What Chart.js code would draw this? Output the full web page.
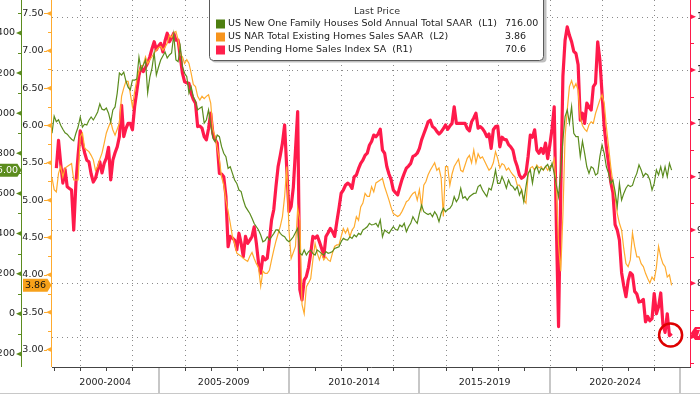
<!DOCTYPE html>
<html><head><meta charset="utf-8">
<script src="https://cdn.jsdelivr.net/npm/chart.js@4.4.1/dist/chart.umd.min.js"></script>
<style>html,body{margin:0;padding:0;background:#fff;overflow:hidden}canvas{display:block}</style>
</head><body>
<canvas id="c" width="700" height="394"></canvas>
<script>
// ---------- categories (month-end observations, Nov 2000 .. Apr 2025) ----------
const months = [];
for (let m = 0; m < 294; m++) {
  const y = 2000 + Math.floor((10 + m) / 12), mo = (10 + m) % 12 + 1;
  months.push(y + '-' + String(mo).padStart(2, '0'));
}
const periodLabels = ['2000-2004', '2005-2009', '2010-2014', '2015-2019', '2020-2024'];
const seriesNames = [
  'US New One Family Houses Sold Annual Total SAAR  (L1)',
  'US NAR Total Existing Homes Sales SAAR  (L2)',
  'US Pending Home Sales Index SA  (R1)'
];
const lastValues = ['716.00', '3.86', '70.6'];
const l1Ticks = [-200, 0, 200, 400, 600, 800, 1000, 1200, 1400];
const l2Ticks = [3.0, 3.5, 4.0, 4.5, 5.0, 5.5, 6.0, 6.5, 7.0, 7.5];
const r1Ticks = [70, 80, 90, 100, 110, 120, 130];

// ---------- series (Nov 2000 .. Aug 2024) ----------
const newHomeSales = [
  900, 985,
  957, 967, 940, 920, 902, 895, 882, 870, 862, 900, 931, 981,
  931, 945, 941, 965, 981, 966, 985, 1006, 1046, 1020, 1016, 1026,
  1000, 956, 1016, 1031, 1100, 1200, 1190, 1205, 1160, 1130, 1116, 1165,
  1165, 1170, 1280, 1215, 1240, 1265, 1101, 1180, 1225, 1300, 1190, 1230,
  1265, 1285, 1305, 1275, 1290, 1300, 1390, 1265, 1257, 1331, 1232, 1199,
  1182, 1100, 1132, 1082, 1060, 1016, 1025, 1032, 950, 966, 1016, 941,
  875, 858, 891, 883, 833, 800, 783, 725, 733, 700, 667, 650,
  617, 609, 567, 534, 517, 500, 476, 450, 434, 418, 393, 359,
  365, 384, 368, 384, 400, 418, 418, 401, 390, 384, 368, 359,
  370, 384, 405, 426, 302, 293, 318, 293, 310, 318, 300, 293,
  318, 310, 300, 293, 310, 302, 305, 310, 326, 330, 334, 359,
  376, 370, 368, 384, 376, 393, 384, 401, 395, 418, 425, 434,
  451, 443, 445, 451, 434, 468, 384, 418, 409, 401, 418, 434,
  420, 418, 443, 434, 451, 409, 434, 451, 484, 465, 451, 501,
  542, 509, 501, 495, 501, 484, 509, 492, 459, 501, 526, 509,
  520, 526, 542, 584, 559, 576, 626, 576, 584, 567, 584, 592,
  600, 601, 634, 642, 617, 600, 584, 626, 617, 659, 717, 650,
  650, 684, 659, 626, 667, 642, 634, 617, 634, 592, 617, 559,
  634, 700, 717, 651, 720, 734, 700, 726, 717, 733, 745, 715,
  750, 700, 640, 584, 717, 866, 983, 1016, 950, 1032, 900, 883,
  883, 783, 860, 800, 733, 700, 733, 725, 692, 700, 783, 841,
  800, 733, 700, 650, 667, 609, 534, 650, 567, 600, 626, 642,
  634, 640, 675, 700, 742, 717, 684, 700, 692, 667, 617, 650,
  717, 692, 733, 684, 733, 684, 750, 716
];
const existingHomeSales = [
  5.30, 5.14,
  5.11, 5.36, 5.45, 5.31, 5.43, 5.45, 5.47, 5.49, 5.27, 5.27, 5.27, 5.85,
  5.90, 5.70, 5.67, 5.65, 5.60, 5.54, 5.40, 5.45, 5.55, 5.63, 5.76, 5.90,
  5.98, 6.05, 5.94, 5.87, 5.95, 6.03, 6.39, 6.50, 6.59, 6.59, 6.43, 6.25,
  6.45, 6.61, 6.72, 6.79, 6.81, 6.92, 6.83, 6.88, 6.92, 6.97, 7.01, 7.04,
  7.06, 7.01, 7.05, 7.10, 7.21, 7.18, 7.24, 7.26, 7.15, 6.95, 6.92, 6.83,
  6.88, 6.83, 6.70, 6.55, 6.52, 6.39, 6.34, 6.39, 6.36, 6.39, 6.41, 6.30,
  5.95, 5.85, 5.70, 5.54, 5.31, 5.20, 5.00, 4.85, 4.69, 4.51, 4.42, 4.29,
  4.27, 4.25, 4.22, 4.20, 4.18, 4.25, 4.30, 4.22, 4.15, 4.10, 3.85, 4.05,
  4.02, 4.02, 4.06, 4.20, 4.33, 4.45, 4.55, 4.65, 4.78, 5.05, 5.45, 4.60,
  4.22, 4.30, 4.38, 4.89, 4.73, 3.60, 3.48, 3.84, 3.89, 3.95, 4.20, 4.42,
  4.29, 4.20, 4.29, 4.20, 4.24, 4.20, 4.18, 4.29, 4.38, 4.40, 4.40, 4.51,
  4.62, 4.56, 4.62, 4.51, 4.60, 4.64, 4.78, 4.73, 4.91, 4.96, 5.09, 5.05,
  5.05, 5.18, 5.11, 5.23, 5.25, 5.27, 5.29, 5.18, 5.09, 5.00, 4.90, 4.82,
  4.80, 4.78, 4.80, 4.85, 4.91, 4.98, 5.00, 5.05, 5.09, 5.11, 5.00, 5.14,
  4.90, 5.20, 5.25, 5.34, 5.40, 5.45, 5.50, 5.40, 5.43, 5.30, 4.78, 5.45,
  5.45, 5.20, 5.35, 5.45, 5.50, 5.55, 5.40, 5.38, 5.47, 5.56, 5.60, 5.50,
  5.67, 5.50, 5.62, 5.56, 5.58, 5.52, 5.46, 5.40, 5.43, 5.50, 5.65, 5.56,
  5.43, 5.49, 5.47, 5.40, 5.43, 5.38, 5.34, 5.31, 5.20, 5.20, 5.14, 5.00,
  4.96, 5.34, 5.43, 5.45, 5.40, 5.47, 5.43, 5.45, 5.40, 5.45, 5.40, 5.45,
  5.45, 5.55, 5.15, 4.40, 4.05, 4.80, 5.85, 6.21, 6.52, 6.60, 6.50, 6.56,
  6.47, 6.10, 6.00, 5.95, 5.92, 6.01, 6.05, 6.03, 6.16, 6.25, 6.34, 6.41,
  6.30, 5.98, 5.72, 5.45, 5.23, 5.05, 4.82, 4.69, 4.60, 4.35, 4.15, 4.11,
  4.20, 4.56, 4.38, 4.24, 4.24, 4.15, 4.11, 4.02, 3.95, 3.89, 3.97, 3.93,
  4.10, 4.38, 4.24, 4.15, 4.11, 3.97, 4.00, 3.86
];
const pendingHomeIndex = [
  null, null,
  101.6, 106.8, 102.5, 98.8, 101.4, 98.1, 97.8, 97.5, 90.0, 98.8, 104.0, 108.6,
  106.3, 104.5, 103.1, 102.8, 100.5, 99.0, 99.7, 101.3, 102.8, 100.7, 102.5, 103.5,
  105.5, 99.4, 103.1, 104.5, 105.6, 107.5, 113.4, 107.5, 109.0, 110.0, 110.0, 108.8,
  113.1, 116.0, 119.0, 120.6, 119.7, 120.5, 121.3, 122.5, 124.0, 125.3, 123.8, 124.5,
  125.0, 123.4, 125.5, 126.9, 125.3, 126.0, 126.9, 125.6, 125.6, 122.5, 119.4, 117.8,
  117.6, 117.5, 115.6, 114.5, 113.8, 109.4, 109.5, 109.1, 107.5, 106.9, 109.0, 111.9,
  108.1, 107.0, 106.3, 100.6, 100.5, 100.0, 96.3, 86.9, 88.8, 88.5, 88.1, 86.3,
  89.4, 87.5, 85.0, 88.8, 87.5, 88.1, 88.8, 90.6, 87.5, 83.8, 81.9, 85.0,
  84.4, 84.7, 88.1, 91.9, 93.8, 98.1, 101.9, 104.0, 106.3, 109.7, 101.3, 93.5,
  94.4, 98.0, 105.0, 112.2, 78.8, 76.9, 80.6, 81.3, 83.0, 85.6, 88.8, 88.5,
  88.9, 87.8, 86.6, 85.0, 88.8, 89.5, 90.3, 89.7, 88.8, 91.5, 94.1, 96.9,
  97.5, 98.4, 98.8, 98.5, 97.8, 100.0, 100.3, 101.5, 102.5, 103.1, 104.0, 104.4,
  105.9, 106.6, 107.8, 107.5, 108.0, 108.9, 105.0, 104.4, 101.9, 100.5, 99.4, 97.5,
  97.0, 96.6, 98.1, 99.5, 100.6, 101.6, 102.0, 102.5, 103.8, 104.0, 104.4, 105.3,
  106.9, 108.0, 109.1, 110.3, 110.6, 109.4, 109.1, 108.5, 108.0, 108.4, 109.0, 109.7,
  108.9, 109.5, 110.0, 113.1, 110.0, 110.0, 110.0, 110.0, 110.0, 109.0, 108.6, 110.3,
  111.0, 111.9, 109.1, 109.4, 109.0, 108.4, 107.5, 108.0, 105.3, 108.8, 109.4, 109.5,
  105.6, 107.4, 107.0, 106.9, 106.0, 105.6, 105.0, 103.1, 101.9, 100.3, 99.7, 100.0,
  100.6, 103.8, 107.8, 107.4, 108.8, 105.0, 104.4, 105.3, 104.4, 106.3, 103.4, 106.0,
  109.0, 113.1, 90.6, 71.9, 97.0, 118.8, 125.6, 128.1, 126.5, 125.3, 123.5, 123.1,
  121.0, 110.6, 111.9, 110.0, 113.8, 113.1, 112.5, 116.9, 117.5, 125.3, 121.9, 115.6,
  109.4, 105.5, 102.5, 99.0, 97.0, 91.0, 90.0, 88.1, 82.0, 79.5, 77.5, 80.5,
  82.0, 81.6, 78.5, 78.0, 76.5, 76.6, 77.0, 72.8, 73.8, 73.0, 73.4, 78.1,
  74.3, 75.6, 78.2, 72.3, 70.8, 74.3, 70.2, 70.6
];

// ---------- styling ----------
const GREEN = '#5b8c1e', ORANGE = '#ffab2e', RED = '#ff1a4b';
const FONT = '9.5px "DejaVu Sans", sans-serif';
const TXT = '#222';

function yearIdx(Y) { return months.indexOf((Y - 1) + '-12'); }

function tri(ctx, x0, x1, y, h) {
  ctx.beginPath(); ctx.moveTo(x0, y - h); ctx.lineTo(x0, y + h); ctx.lineTo(x1, y); ctx.closePath(); ctx.fill();
}
function rr(ctx, x, y, w, h, r) {
  ctx.beginPath();
  ctx.moveTo(x + r, y); ctx.lineTo(x + w - r, y); ctx.arcTo(x + w, y, x + w, y + r, r);
  ctx.lineTo(x + w, y + h - r); ctx.arcTo(x + w, y + h, x + w - r, y + h, r);
  ctx.lineTo(x + r, y + h); ctx.arcTo(x, y + h, x, y + h - r, r);
  ctx.lineTo(x, y + r); ctx.arcTo(x, y, x + r, y, r); ctx.closePath();
}

const bbg = {
  id: 'bbg',
  beforeDatasetsDraw(chart) {
    const { ctx, chartArea: a, scales } = chart;
    ctx.save();
    ctx.strokeStyle = '#8a8a8a'; ctx.lineWidth = 1; ctx.setLineDash([1, 4]);
    r1Ticks.forEach(v => {
      const y = Math.round(scales.yR1.getPixelForValue(v)) + 0.5;
      ctx.beginPath(); ctx.moveTo(a.left, y); ctx.lineTo(a.right, y); ctx.stroke();
    });
    for (let Y = 2002; Y <= 2024; Y += 2) {
      const x = Math.round(scales.x.getPixelForValue(yearIdx(Y))) + 0.5;
      ctx.beginPath(); ctx.moveTo(x, a.top); ctx.lineTo(x, a.bottom); ctx.stroke();
    }
    ctx.restore();
  },
  afterDraw(chart) {
    const { ctx, chartArea: a, scales } = chart;
    const X = scales.x, L1 = scales.yL1, L2 = scales.yL2, R1 = scales.yR1;
    ctx.save();
    ctx.font = FONT; ctx.textBaseline = 'middle';

    // ----- L1 axis (outer left, green)
    ctx.strokeStyle = GREEN; ctx.fillStyle = GREEN; ctx.lineWidth = 1;
    ctx.beginPath(); ctx.moveTo(21.5, 0); ctx.lineTo(21.5, a.bottom); ctx.stroke();
    for (let v = -200; v <= 1500; v += 100) {
      const y = L1.getPixelForValue(v);
      if (y < 0 || y > a.bottom) continue;
      if (v % 200 === 0) tri(ctx, 21.5, 16, y, 2.5);
      else { ctx.beginPath(); ctx.moveTo(18, Math.round(y) + 0.5); ctx.lineTo(21.5, Math.round(y) + 0.5); ctx.stroke(); }
    }
    ctx.fillStyle = TXT; ctx.textAlign = 'right';
    l1Ticks.forEach(v => ctx.fillText(String(v), 15, L1.getPixelForValue(v)));

    // ----- L2 axis (inner left, orange)
    ctx.strokeStyle = ORANGE; ctx.fillStyle = ORANGE;
    ctx.beginPath(); ctx.moveTo(51.5, 0); ctx.lineTo(51.5, a.bottom); ctx.stroke();
    for (let v = 2.75; v <= 7.75; v += 0.25) {
      const y = L2.getPixelForValue(v);
      if (y < 0 || y > a.bottom) continue;
      if (Math.abs(v * 2 - Math.round(v * 2)) < 1e-6) { tri(ctx, 51.5, 46, y, 2.5); ctx.fillRect(44, Math.round(y), 3, 1); }
      else { ctx.beginPath(); ctx.moveTo(48, Math.round(y) + 0.5); ctx.lineTo(51.5, Math.round(y) + 0.5); ctx.stroke(); }
    }
    ctx.fillStyle = TXT;
    l2Ticks.forEach(v => ctx.fillText(v.toFixed(2), 43.5, L2.getPixelForValue(v)));

    // ----- R1 axis (right, red)
    ctx.strokeStyle = RED; ctx.fillStyle = RED;
    ctx.beginPath(); ctx.moveTo(690.5, 0); ctx.lineTo(690.5, a.bottom); ctx.stroke();
    for (let v = 65; v <= 135; v += 5) {
      const y = R1.getPixelForValue(v);
      if (y < 0 || y > a.bottom) continue;
      if (v % 10 === 0) tri(ctx, 690.5, 696, y, 2.5);
      else { ctx.beginPath(); ctx.moveTo(690.5, Math.round(y) + 0.5); ctx.lineTo(694, Math.round(y) + 0.5); ctx.stroke(); }
    }
    ctx.fillStyle = TXT; ctx.textAlign = 'left';
    r1Ticks.forEach(v => ctx.fillText(String(v), 697, R1.getPixelForValue(v)));

    // ----- x axis & period band
    ctx.strokeStyle = '#444'; ctx.lineWidth = 1;
    ctx.beginPath(); ctx.moveTo(a.left, a.bottom + 0.5); ctx.lineTo(691, a.bottom + 0.5); ctx.stroke();
    for (let Y = 2001; Y <= 2025; Y++) {
      if (Y % 5 === 0) continue;
      const x = Math.round(X.getPixelForValue(yearIdx(Y))) + 0.5;
      ctx.beginPath(); ctx.moveTo(x, a.bottom + 1); ctx.lineTo(x, a.bottom + 4); ctx.stroke();
    }
    ctx.strokeStyle = '#b4b4b4'; ctx.lineWidth = 1.5;
    const seps = [2005, 2010, 2015, 2020, 2025].map(Y => X.getPixelForValue(yearIdx(Y)));
    seps.forEach(x => { ctx.beginPath(); ctx.moveTo(Math.round(x), a.bottom + 1); ctx.lineTo(Math.round(x), 394); ctx.stroke(); });
    ctx.strokeStyle = '#c8c8c8'; ctx.lineWidth = 1;
    ctx.beginPath(); ctx.moveTo(0, 393.5); ctx.lineTo(700, 393.5); ctx.stroke();
    ctx.fillStyle = TXT; ctx.textAlign = 'center';
    periodLabels.forEach((t, i) => {
      const x0 = i === 0 ? a.left : seps[i - 1], x1 = seps[i];
      ctx.fillText(t, (x0 + x1) / 2, 383);
    });

    // ----- last-value bubbles
    const yG = L1.getPixelForValue(716);
    ctx.fillStyle = GREEN;
    ctx.beginPath(); ctx.moveTo(-6, yG - 6.5); ctx.lineTo(17.5, yG - 6.5); ctx.lineTo(21.5, yG); ctx.lineTo(17.5, yG + 6.5); ctx.lineTo(-6, yG + 6.5); ctx.closePath(); ctx.fill();
    ctx.fillStyle = '#fff'; ctx.textAlign = 'right'; ctx.fillText(lastValues[0], 18, yG + 0.5);

    const yO = L2.getPixelForValue(3.86);
    ctx.fillStyle = '#f7a11a';
    ctx.beginPath(); ctx.moveTo(23, yO - 6.5); ctx.lineTo(47.5, yO - 6.5); ctx.lineTo(51.5, yO); ctx.lineTo(47.5, yO + 6.5); ctx.lineTo(23, yO + 6.5); ctx.closePath(); ctx.fill();
    ctx.fillStyle = '#111'; ctx.textAlign = 'center'; ctx.fillText(lastValues[1], 35.5, yO + 0.5);

    const yR = R1.getPixelForValue(70.6);
    ctx.fillStyle = RED;
    ctx.beginPath(); ctx.moveTo(690.5, yR); ctx.lineTo(695, yR - 6.5); ctx.lineTo(720, yR - 6.5); ctx.lineTo(720, yR + 6.5); ctx.lineTo(695, yR + 6.5); ctx.closePath(); ctx.fill();
    ctx.fillStyle = '#fff'; ctx.textAlign = 'left'; ctx.fillText(lastValues[2], 696, yR + 0.5);

    // ----- highlight circle on the last pending-sales point
    const lastI = pendingHomeIndex.length - 1;
    ctx.strokeStyle = '#dd0000'; ctx.lineWidth = 2.5;
    ctx.beginPath(); ctx.arc(X.getPixelForValue(lastI) - 1, R1.getPixelForValue(pendingHomeIndex[lastI]) + 1.5, 11.5, 0, Math.PI * 2); ctx.stroke();

    // ----- legend box
    ctx.fillStyle = 'rgba(0,0,0,0.25)'; rr(ctx, 211.5, -6, 335, 68.5, 4); ctx.fill();
    ctx.fillStyle = '#fff'; ctx.strokeStyle = '#5a5a5a'; ctx.lineWidth = 1;
    rr(ctx, 209.5, -6.5, 334, 67, 4); ctx.fill(); ctx.stroke();
    ctx.fillStyle = '#333'; ctx.textAlign = 'center';
    ctx.fillText('Last Price', 377, 12);
    const sw = ['#4e7f10', '#f7941d', '#ff1f4b'];
    [24, 37, 50].forEach((y, i) => {
      ctx.fillStyle = sw[i]; ctx.fillRect(216, y - 4.5, 9, 9);
      ctx.fillStyle = '#222'; ctx.textAlign = 'left';
      ctx.fillText(seriesNames[i], 228, y);
      ctx.fillText(lastValues[i], 505, y);
    });
    ctx.restore();
  }
};

new Chart(document.getElementById('c'), {
  type: 'line',
  data: {
    labels: months,
    datasets: [
      { label: seriesNames[0], data: newHomeSales, yAxisID: 'yL1', borderColor: GREEN, borderWidth: 1.2, pointRadius: 0, tension: 0 },
      { label: seriesNames[1], data: existingHomeSales, yAxisID: 'yL2', borderColor: ORANGE, borderWidth: 1.2, pointRadius: 0, tension: 0 },
      { label: seriesNames[2], data: pendingHomeIndex, yAxisID: 'yR1', borderColor: RED, borderWidth: 3.2, pointRadius: 0, tension: 0, borderJoinStyle: 'round' }
    ]
  },
  options: {
    responsive: false, animation: false, devicePixelRatio: 1,
    layout: { padding: { left: 52, right: 11, top: 0, bottom: 27 } },
    plugins: { legend: { display: false }, tooltip: { enabled: false } },
    events: [],
    scales: {
      x: { type: 'category', axis: 'x', display: false, offset: false },
      yL1: { type: 'linear', axis: 'y', position: 'left', display: false, min: -265, max: 1564 },
      yL2: { type: 'linear', axis: 'y', position: 'left', display: false, min: 2.766, max: 7.68 },
      yR1: { type: 'linear', axis: 'y', position: 'right', display: false, min: 64.32, max: 133.13 }
    }
  },
  plugins: [bbg]
});
</script>
</body></html>
